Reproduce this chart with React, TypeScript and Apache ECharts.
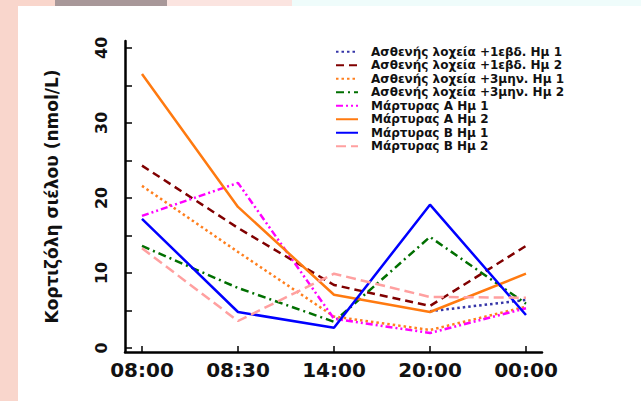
import React, { useEffect, useRef } from "react";
import * as echarts from "echarts";

const timeLabels = ["08:00", "08:30", "14:00", "20:00", "00:00"];
const yTickValues = [0, 5, 10, 15, 20, 25, 30, 35, 40];
const yLabelValues = [0, 10, 20, 30, 40];

const seriesNames = [
  "Ασθενής λοχεία +1εβδ. Ημ 1",
  "Ασθενής λοχεία +1εβδ. Ημ 2",
  "Ασθενής λοχεία +3μην. Ημ 1",
  "Ασθενής λοχεία +3μην. Ημ 2",
  "Μάρτυρας Α Ημ 1",
  "Μάρτυρας Α Ημ 2",
  "Μάρτυρας Β Ημ 1",
  "Μάρτυρας Β Ημ 2",
];

const patient1wDay1 = [null, null, null, 4.9, 6.4];
const patient1wDay2 = [24.3, 16.0, 8.4, 5.6, 13.6];
const patient3mDay1 = [21.6, 12.8, 4.2, 2.4, 5.5];
const patient3mDay2 = [13.6, 8.0, 3.5, 14.8, 5.9];
const controlADay1 = [17.6, 22.0, 3.9, 2.0, 5.3];
const controlADay2 = [36.5, 18.8, 7.1, 4.8, 9.9];
const controlBDay1 = [17.2, 4.8, 2.7, 19.1, 4.4];
const controlBDay2 = [13.3, 3.6, 9.9, 6.8, 6.7];

const seriesValues = [
  patient1wDay1,
  patient1wDay2,
  patient3mDay1,
  patient3mDay2,
  controlADay1,
  controlADay2,
  controlBDay1,
  controlBDay2,
];

const seriesColors = [
  "#3535a8",
  "#800000",
  "#ff7f1e",
  "#006f00",
  "#ff00ff",
  "#ff7a10",
  "#0000ff",
  "#ffa0a0",
];

const seriesDash: (string | number[])[] = [
  [2.5, 3],
  [8, 5],
  [2.5, 3],
  [8, 4, 2, 4],
  [7, 3, 2, 3, 2, 3],
  "solid",
  "solid",
  [10, 5],
];

export default function App() {
  const ref = useRef<HTMLDivElement>(null);

  useEffect(() => {
    if (!ref.current) return;
    const chart = echarts.init(ref.current, undefined, { renderer: "svg" });
    const font = "DejaVu Sans";
    const series = seriesNames.map((name, k) => ({
      name,
      type: "line",
      symbol: "none",
      data: seriesValues[k]
        .map((v, i) => (v === null ? null : [i, v]))
        .filter((d) => d !== null),
      lineStyle: {
        color: seriesColors[k],
        width: 2.5,
        type: seriesDash[k],
      },
      itemStyle: { color: seriesColors[k], opacity: 0 },
      z: 2 + k * 0.01,
    }));

    chart.setOption({
      animation: false,
      backgroundColor: "#ffffff",
      graphic: [
        { type: "rect", z: -10, shape: { x: 0, y: 0, width: 641, height: 401 }, style: { fill: "#f9d6cc" } },
        { type: "rect", z: -9, shape: { x: 55, y: 0, width: 112, height: 6 }, style: { fill: "#a89899" } },
        { type: "rect", z: -9, shape: { x: 167, y: 0, width: 125, height: 6 }, style: { fill: "#fbe4e0" } },
        { type: "rect", z: -9, shape: { x: 292, y: 0, width: 349, height: 6 }, style: { fill: "#effcfb" } },
        { type: "rect", z: -8, shape: { x: 18, y: 6, width: 623, height: 395 }, style: { fill: "#ffffff" } },
      ],
      grid: { left: 125, right: 99, top: 41, bottom: 49 },
      legend: {
        orient: "vertical",
        left: 335,
        top: 45,
        itemWidth: 22,
        itemHeight: 13.5,
        itemGap: 0,
        padding: 0,
        data: seriesNames,
        itemStyle: { opacity: 0 },
        textStyle: {
          fontFamily: font,
          fontWeight: "bold",
          fontSize: 12,
          lineHeight: 13.5,
          color: "#111111",
          padding: [0, 0, 0, 8],
        },
      },
      xAxis: {
        type: "value",
        min: -0.177,
        max: 4.167,
        splitLine: { show: false },
        axisLine: { show: true, onZero: false, lineStyle: { color: "#000", width: 2.5 } },
        axisTick: {
          show: true,
          inside: true,
          length: 6,
          customValues: [0, 1, 2, 3, 4],
          lineStyle: { color: "#000", width: 1.5 },
        },
        axisLabel: {
          customValues: [0, 1, 2, 3, 4],
          formatter: (v: number) => timeLabels[Math.round(v)] ?? "",
          fontFamily: font,
          fontWeight: "bold",
          fontSize: 20,
          color: "#111",
          margin: 8,
        },
      },
      yAxis: {
        type: "value",
        min: -0.53,
        max: 40.9,
        name: "Κορτιζόλη σιέλου (nmol/L)",
        nameLocation: "middle",
        nameRotate: 90,
        nameGap: 65,
        nameTextStyle: {
          fontFamily: font,
          fontWeight: "bold",
          fontSize: 17,
          color: "#111",
        },
        splitLine: { show: false },
        axisLine: { show: true, onZero: false, lineStyle: { color: "#000", width: 2.5 } },
        axisTick: {
          show: true,
          inside: true,
          length: 7,
          customValues: yTickValues,
          lineStyle: { color: "#000", width: 1.5 },
        },
        axisLabel: {
          customValues: yLabelValues,
          rotate: 90,
          fontFamily: font,
          fontWeight: "bold",
          fontSize: 16,
          color: "#111",
          margin: 16,
        },
      },
      series,
    });

    return () => chart.dispose();
  }, []);

  return (
    <div
      ref={ref}
      style={{ position: "fixed", left: 0, top: 0, width: 641, height: 401 }}
    />
  );
}
